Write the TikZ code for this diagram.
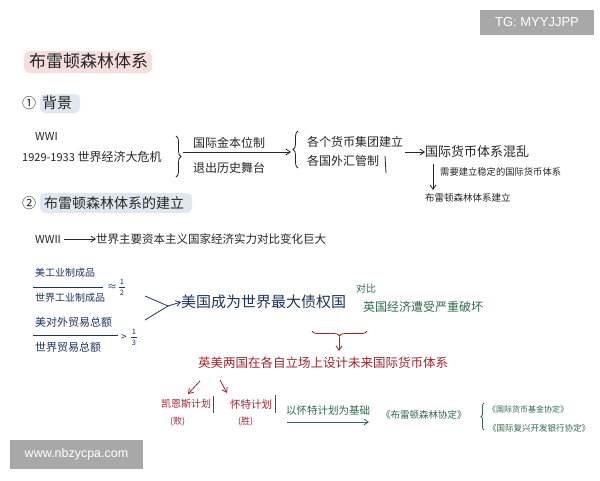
\documentclass[tikz,border=0pt]{standalone}
\usepackage{fontspec}
\setmainfont{Noto Sans CJK SC}
\newfontfamily\wmfont{Liberation Sans}
\usetikzlibrary{arrows.meta,decorations.pathreplacing}
\definecolor{inkk}{HTML}{262626}
\definecolor{inkb}{HTML}{1E3560}
\definecolor{inkg}{HTML}{2F6A4C}
\definecolor{inkr}{HTML}{A3242A}
\definecolor{hlpink}{HTML}{F4DEDE}
\definecolor{hlblue}{HTML}{DFE7F1}
\definecolor{wmgray}{HTML}{A8A8A8}
\newcommand\myfs[1]{\fontsize{#1}{#1}\selectfont}
\begin{document}
\begin{tikzpicture}[x=1pt,y=-1pt,
  t/.style={inner sep=0pt, anchor=west},
  tk/.style={t, text=inkk},
  tb/.style={t, text=inkb},
  tg/.style={t, text=inkg},
  tr/.style={t, text=inkr},
  dig/.style={inner sep=0pt, text=inkb, font=\myfs{7.5}},
  arr/.style={-{Straight Barb[length=4.5pt,width=6pt]}, line width=0.8pt},
  brc/.style={decorate, decoration={brace, amplitude=#1}, line width=0.8pt},
  bar/.style={line width=0.8pt},
  thin/.style={line width=0.6pt},
  wm/.style={text=white, font=\wmfont\myfs{13}}]
\useasboundingbox (0,0) rectangle (600,480);
\fill[white] (0,0) rectangle (600,480);
% highlights
\fill[hlpink, rounded corners=6pt] (24,51) rectangle (152,73);
\fill[hlblue, rounded corners=5pt] (40,94) rectangle (80,113);
\fill[hlblue, rounded corners=5pt] (40,193) rectangle (192,213);
% title and section 1
\node[tk, font=\myfs{17}] (title) at (29,61) {布雷顿森林体系};
\node[tk, font=\myfs{14}] (c1) at (22,103) {①};
\node[tk, font=\myfs{15}] (s1) at (42,103) {背景};
\node[tk, font=\myfs{11}] (wwi) at (35,136) {WWI};
\node[tk, font=\myfs{12}] (crisis) at (22,157) {{\myfs{11}1929-1933} 世界经济大危机};
\draw[brc=5pt, inkk] (176,136) -- (176,177);
\coordinate (b1) at (183,152);
\node[tk, font=\myfs{12}] (gold) at (193,143) {国际金本位制};
\node[tk, font=\myfs{12}] (exit) at (193,168) {退出历史舞台};
\draw[brc=5pt, inkk] (298,168) -- (298,131);
\coordinate (b2) at (291,152);
\draw[arr, inkk] (b1) -- (b2);
\node[tk, font=\myfs{12}] (bloc) at (307,142) {各个货币集团建立};
\node[tk, font=\myfs{12}] (fx) at (307,161) {各国外汇管制};
\draw[bar, inkk] (385,156) -- (386,173);
\coordinate (b3) at (405,152);
\node[tk, font=\myfs{13}] (chaos) at (425,152) {国际货币体系混乱};
\draw[arr, inkk] (b3) -- (chaos.west);
\coordinate (d1) at (433,164);
\node[tk, font=\myfs{9.5}] (bw1) at (425,198) {布雷顿森林体系建立};
\draw[arr, inkk] (d1) -- (433,190);
\node[tk, font=\myfs{9.3}] (need) at (440,172) {需要建立稳定的国际货币体系};
% section 2
\node[tk, font=\myfs{14}] (c2) at (22,203) {②};
\node[tk, font=\myfs{14}] (s2) at (44,203) {布雷顿森林体系的建立};
\node[tk, font=\myfs{11}] (wwii) at (35,239) {WWII};
\node[tk, font=\myfs{11.5}] (change) at (96,239) {世界主要资本主义国家经济实力对比变化巨大};
\draw[arr, inkk] (wwii.east) ++(3,0) -- (change.west);
% blue fractions
\node[tb, font=\myfs{10}] (n1) at (35,273) {美工业制成品};
\draw[bar, inkb] (33,287) -- (103,287);
\node[tb, font=\myfs{10}] (d1n) at (35,298) {世界工业制成品};
\node[tb, font=\myfs{10}] (r1) at (107,288) {≈};
\node[dig] (r1n) at (122,282) {1};
\draw[thin, inkb] (119,287.5) -- (125,287.5);
\node[dig] (r1d) at (122,293) {2};
\node[tb, font=\myfs{11}] (n2) at (35,322) {美对外贸易总额};
\draw[bar, inkb] (33,335) -- (118,335);
\node[tb, font=\myfs{11}] (d2n) at (35,347) {世界贸易总额};
\node[tb, font=\myfs{10}] (r2) at (121,338) {>};
\node[dig] (r2n) at (134,332) {1};
\draw[thin, inkb] (131,337.5) -- (137,337.5);
\node[dig] (r2d) at (134,343) {3};
\coordinate (chev) at (168,306);
\draw[bar, inkb] (145,296) -- (chev) -- (145,320);
\node[tb, font=\myfs{15}] (creditor) at (181,302) {美国成为世界最大债权国};
\draw[arr, inkb] (chev) -- (creditor.west);
% green contrast
\node[tg, font=\myfs{10}] (contrast) at (356,289) {对比};
\node[tg, font=\myfs{12}] (uk) at (363,307) {英国经济遭受严重破坏};
% red part
\draw[brc=5pt, inkr] (367,331) -- (312,331);
\coordinate (rb) at (339,337);
\node[tr, font=\myfs{12.5}] (design) at (198,363) {英美两国在各自立场上设计未来国际货币体系};
\draw[arr, inkr] (rb) -- (339,351);
\node[tr, font=\myfs{10}] (keynes) at (161,404) {凯恩斯计划};
\node[tr, font=\myfs{9}] (lose) at (170,422) {(败)};
\draw[bar, inkr] (213,396) -- (213,413);
\node[tr, font=\myfs{10.5}] (white) at (230,404) {怀特计划};
\node[tr, font=\myfs{9}] (win) at (238,422) {(胜)};
\draw[bar, inkr] (275,395) -- (275,413);
\coordinate (ra) at (200,381);
\coordinate (rc) at (220,380);
\draw[arr, inkr] (ra) -- (188,394);
\draw[arr, inkr] (rc) -- (227,393);
% green bottom
\node[tg, font=\myfs{10.5}] (basis) at (286,411) {以怀特计划为基础};
\coordinate (ga) at (287,422);
\coordinate (gb) at (369,422);
\draw[arr, inkg] (ga) -- (gb);
\node[tg, font=\myfs{9.5}] (bwa) at (381,415) {《布雷顿森林协定》};
\draw[brc=3pt, inkg] (484,430) -- (484,403);
\node[tg, font=\myfs{8}] (imf) at (488,409) {《国际货币基金协定》};
\node[tg, font=\myfs{8.5}] (ibrd) at (488,428) {《国际复兴开发银行协定》};
% watermarks
\fill[wmgray] (480,10) rectangle (594,35);
\node[wm] (wm1) at (537,22.5) {TG: MYYJJPP};
\fill[wmgray] (10,440) rectangle (143,469);
\node[wm, font=\wmfont\myfs{12.5}] (wm2) at (76.5,454.5) {www.nbzycpa.com};
\end{tikzpicture}
\end{document}
